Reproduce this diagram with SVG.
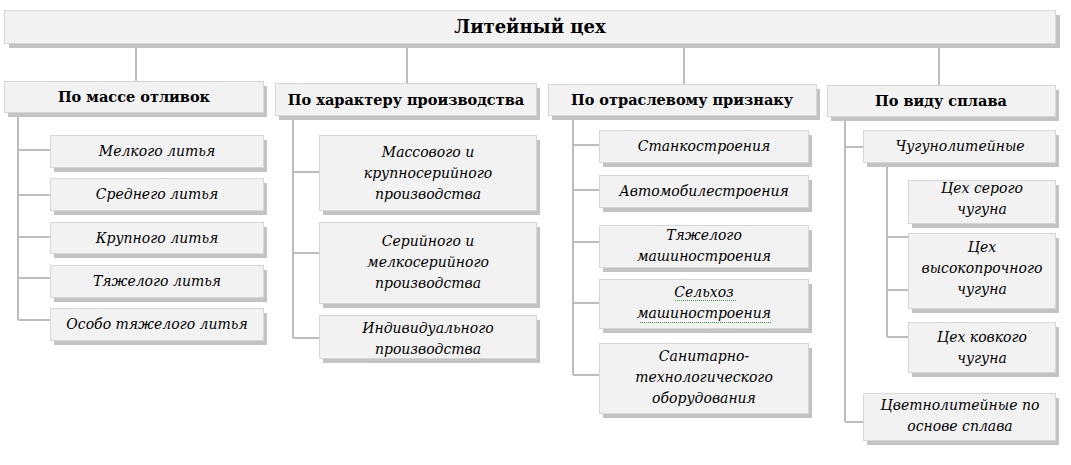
<svg xmlns="http://www.w3.org/2000/svg" width="1071" height="465" viewBox="0 0 1071 465">
<style>
.sh{fill:#c3c3c3}
.bx{fill:#f2f2f2;stroke:#d6d6d6;stroke-width:1}
.t{font-family:"DejaVu Serif","Liberation Serif",serif;font-weight:bold;fill:#000;text-anchor:middle}
.h{font-size:14.5px}
.tt{font-size:18px}
.i{font-family:"DejaVu Serif","Liberation Serif",serif;font-style:italic;font-size:14px;fill:#000;text-anchor:middle}
.c{stroke:#bdbdbd;stroke-width:2;fill:none}
.sq{stroke:#3c9a3c;stroke-width:1;stroke-dasharray:1 1;fill:none}
</style>
<rect width="1071" height="465" fill="#ffffff"/>
<g id="connectors" class="c">
<path d="M136 43V82M407 43V84M684 43V85M939 43V86"/>
<path d="M18 112V320M18 150H50M18 195H50M18 237H50M18 278H50M18 320H50"/>
<path d="M293 115V338M293 172H319M293 253H319M293 338H319"/>
<path d="M573 115V375M573 145H599M573 190H599M573 242H599M573 303H599M573 375H599"/>
<path d="M845 116V422M845 147H863M845 422H863"/>
<path d="M887 162V337M887 237H908M887 290H908M887 337H908"/>
</g>
<g id="root"><rect class="sh" x="9" y="15" width="1051" height="33"/><rect class="bx" x="4.5" y="10.5" width="1051" height="33"/><text class="t tt" x="530" y="33">Литейный цех</text></g>
<g id="h1"><rect class="sh" x="8" y="86" width="259" height="31"/><rect class="bx" x="4.5" y="81.5" width="259" height="31"/><text class="t h" x="134" y="102">По массе отливок</text></g>
<g id="h2"><rect class="sh" x="279" y="88" width="261" height="32"/><rect class="bx" x="275.5" y="83.5" width="261" height="32"/><text class="t h" x="406" y="104.5">По характеру производства</text></g>
<g id="h3"><rect class="sh" x="552" y="89" width="268" height="31"/><rect class="bx" x="548.5" y="84.5" width="268" height="31"/><text class="t h" x="682" y="105">По отраслевому признаку</text></g>
<g id="h4"><rect class="sh" x="831" y="90" width="228" height="31"/><rect class="bx" x="827.5" y="85.5" width="228" height="31"/><text class="t h" x="941" y="106">По виду сплава</text></g>

<g id="a1"><rect class="sh" x="54" y="140" width="213" height="32"/><rect class="bx" x="50.5" y="135.5" width="213" height="32"/><text class="i" x="157" y="156">Мелкого литья</text></g>
<g id="a2"><rect class="sh" x="54" y="183" width="213" height="32"/><rect class="bx" x="50.5" y="178.5" width="213" height="32"/><text class="i" x="157" y="199">Среднего литья</text></g>
<g id="a3"><rect class="sh" x="54" y="227" width="213" height="31"/><rect class="bx" x="50.5" y="222.5" width="213" height="31"/><text class="i" x="157" y="242.5">Крупного литья</text></g>
<g id="a4"><rect class="sh" x="54" y="270" width="213" height="32"/><rect class="bx" x="50.5" y="265.5" width="213" height="32"/><text class="i" x="157" y="286">Тяжелого литья</text></g>
<g id="a5"><rect class="sh" x="54" y="313" width="213" height="32"/><rect class="bx" x="50.5" y="308.5" width="213" height="32"/><text class="i" x="157" y="329">Особо тяжелого литья</text></g>

<g id="b1"><rect class="sh" x="323" y="140" width="217" height="75"/><rect class="bx" x="319.5" y="135.5" width="217" height="75"/><text class="i" x="428" y="157"><tspan x="428">Массового и</tspan><tspan x="428" dy="21">крупносерийного</tspan><tspan x="428" dy="21">производства</tspan></text></g>
<g id="b2"><rect class="sh" x="323" y="227" width="217" height="81"/><rect class="bx" x="319.5" y="222.5" width="217" height="81"/><text class="i" x="428" y="246"><tspan x="428">Серийного и</tspan><tspan x="428" dy="21">мелкосерийного</tspan><tspan x="428" dy="21">производства</tspan></text></g>
<g id="b3"><rect class="sh" x="323" y="320" width="217" height="43"/><rect class="bx" x="319.5" y="315.5" width="217" height="43"/><text class="i" x="428" y="333"><tspan x="428">Индивидуального</tspan><tspan x="428" dy="21">производства</tspan></text></g>

<g id="c1"><rect class="sh" x="603" y="135" width="209" height="32"/><rect class="bx" x="599.5" y="130.5" width="209" height="32"/><text class="i" x="704" y="151">Станкостроения</text></g>
<g id="c2"><rect class="sh" x="603" y="180" width="209" height="32"/><rect class="bx" x="599.5" y="175.5" width="209" height="32"/><text class="i" x="704" y="196">Автомобилестроения</text></g>
<g id="c3"><rect class="sh" x="603" y="230" width="209" height="42"/><rect class="bx" x="599.5" y="225.5" width="209" height="42"/><text class="i" x="704" y="240"><tspan x="704">Тяжелого</tspan><tspan x="704" dy="21">машиностроения</tspan></text></g>
<g id="c4"><rect class="sh" x="603" y="284" width="209" height="49"/><rect class="bx" x="599.5" y="279.5" width="209" height="49"/><text class="i" x="704" y="297"><tspan x="704">Сельхоз</tspan><tspan x="704" dy="21">машиностроения</tspan></text><path class="sq" d="M675 300.5H737M640 322.5H771"/></g>
<g id="c5"><rect class="sh" x="603" y="348" width="209" height="70"/><rect class="bx" x="599.5" y="343.5" width="209" height="70"/><text class="i" x="704" y="361"><tspan x="704">Санитарно-</tspan><tspan x="704" dy="21">технологического</tspan><tspan x="704" dy="21">оборудования</tspan></text></g>

<g id="d1"><rect class="sh" x="867" y="135" width="192" height="32"/><rect class="bx" x="863.5" y="130.5" width="192" height="32"/><text class="i" x="960" y="151">Чугунолитейные</text></g>
<g id="d2"><rect class="sh" x="912" y="185" width="147" height="43"/><rect class="bx" x="908.5" y="180.5" width="147" height="43"/><text class="i" x="982" y="193"><tspan x="982">Цех серого</tspan><tspan x="982" dy="21">чугуна</tspan></text></g>
<g id="d3"><rect class="sh" x="912" y="238" width="147" height="75"/><rect class="bx" x="908.5" y="233.5" width="147" height="75"/><text class="i" x="982" y="252"><tspan x="982">Цех</tspan><tspan x="982" dy="21">высокопрочного</tspan><tspan x="982" dy="21">чугуна</tspan></text></g>
<g id="d4"><rect class="sh" x="912" y="327" width="147" height="50"/><rect class="bx" x="908.5" y="322.5" width="147" height="50"/><text class="i" x="982" y="342"><tspan x="982">Цех ковкого</tspan><tspan x="982" dy="21">чугуна</tspan></text></g>
<g id="d5"><rect class="sh" x="867" y="398" width="192" height="47"/><rect class="bx" x="863.5" y="393.5" width="192" height="47"/><text class="i" x="960" y="410"><tspan x="960">Цветнолитейные по</tspan><tspan x="960" dy="21">основе сплава</tspan></text></g>
</svg>
